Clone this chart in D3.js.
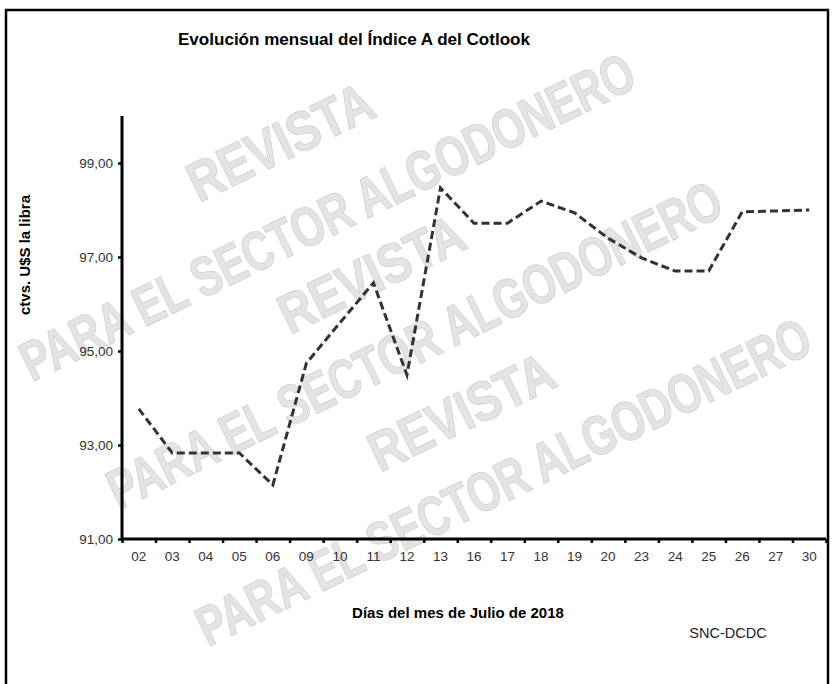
<!DOCTYPE html>
<html>
<head>
<meta charset="utf-8">
<script src="https://cdn.jsdelivr.net/npm/d3@7"></script>
<style>
  body { margin: 0; background: #fff; }
  text { font-family: "Liberation Sans", Arial, sans-serif; }
</style>
</head>
<body>
<div id="chart"></div>
<script>
// dias habiles de julio 2018 y valor del indice (ctvs. U$S la libra)
var days = ["02", "03", "04", "05", "06", "09", "10", "11", "12", "13", "16",
    "17", "18", "19", "20", "23", "24", "25", "26", "27", "30"];
var indexA = [93.77, 92.83, 92.83, 92.83, 92.15, 94.74, 95.6, 96.45, 94.49, 98.47, 97.72,
    97.72, 98.19, 97.94, 97.4, 96.98, 96.7, 96.7, 97.96, 97.98, 98.0];
var yTicks = [91, 93, 95, 97, 99];
var yDomain = [91, 100];

var W = 832, H = 684;
var plot = { left: 122, right: 826, top: 116, bottom: 539 };

var svg = d3.select("#chart").append("svg")
    .attr("width", W)
    .attr("height", H);

svg.append("rect")
    .attr("width", W).attr("height", H)
    .attr("fill", "#fff");

// marca de agua: [centro "REVISTA"], [centro "PARA EL SECTOR ALGODONERO"]
var marks = [
    [[280, 141], [327, 216]],
    [[371, 273], [414, 344]],
    [[461, 411], [503, 481]]
];
var wm = svg.append("g")
    .attr("fill", "#e4e4e4")
    .attr("stroke", "#d4d4d4")
    .attr("stroke-width", 1)
    .style("font-family", "'Liberation Sans', Arial, sans-serif")
    .style("font-weight", "bold")
    .style("font-size", "56px")
    .attr("text-anchor", "middle");
marks.forEach(function (m) {
    wm.append("text")
        .attr("transform", "translate(" + m[0][0] + "," + m[0][1] + ") rotate(-26)")
        .attr("dy", "0.36em")
        .attr("textLength", 200).attr("lengthAdjust", "spacingAndGlyphs")
        .text("REVISTA");
    wm.append("text")
        .attr("transform", "translate(" + m[1][0] + "," + m[1][1] + ") rotate(-26)")
        .attr("dy", "0.36em")
        .attr("textLength", 676).attr("lengthAdjust", "spacingAndGlyphs")
        .text("PARA EL SECTOR ALGODONERO");
});

// marco
svg.append("rect")
    .attr("x", 6).attr("y", 10)
    .attr("width", 822).attr("height", 690)
    .attr("fill", "none")
    .attr("stroke", "#000")
    .attr("stroke-width", 2.5);

var x = d3.scaleBand().domain(days).range([plot.left, plot.right]);
var xEdges = d3.scaleLinear().domain([0, days.length]).range([plot.left, plot.right]);
var y = d3.scaleLinear().domain(yDomain).range([plot.bottom, plot.top]);

var fmt = function (d) { return d3.format(".2f")(d).replace(".", ","); };

var yAxis = svg.append("g")
    .attr("transform", "translate(" + plot.left + ",0)")
    .call(d3.axisLeft(y).tickValues(yTicks).tickSize(4).tickPadding(5).tickFormat(fmt));

var xTickMarks = svg.append("g")
    .attr("transform", "translate(0," + plot.bottom + ")")
    .call(d3.axisBottom(xEdges).ticks(days.length).tickSize(4).tickFormat(""));

var xAxis = svg.append("g")
    .attr("transform", "translate(0," + plot.bottom + ")")
    .call(d3.axisBottom(x).tickSize(0).tickPadding(12));

[yAxis, xTickMarks, xAxis].forEach(function (a) {
    a.select(".domain").attr("stroke", "#000").attr("stroke-width", 3);
    a.selectAll(".tick line").attr("stroke", "#000").attr("stroke-width", 2.5);
    a.selectAll(".tick text")
        .style("font-family", "'Liberation Sans', Arial, sans-serif")
        .style("font-size", "13.5px")
        .attr("fill", "#333");
});
xTickMarks.select(".domain").attr("d", "M" + plot.left + ",0H" + plot.right);
xAxis.select(".domain").remove();
yAxis.select(".domain").attr("d", "M0," + plot.top + "V" + plot.bottom);

// serie
var line = d3.line()
    .x(function (d, i) { return x(days[i]) + x.bandwidth() / 2; })
    .y(function (d) { return y(d); });

svg.append("path")
    .datum(indexA)
    .attr("d", line)
    .attr("fill", "none")
    .attr("stroke", "#333")
    .attr("stroke-width", 3)
    .attr("stroke-dasharray", "8,4");

// textos
svg.append("text")
    .attr("x", 354).attr("y", 45)
    .attr("text-anchor", "middle")
    .attr("textLength", 352).attr("lengthAdjust", "spacingAndGlyphs")
    .style("font-size", "16px").style("font-weight", "bold")
    .text("Evolución mensual del Índice A del Cotlook");

svg.append("text")
    .attr("transform", "translate(30,255) rotate(-90)")
    .attr("text-anchor", "middle")
    .style("font-size", "15px").style("font-weight", "bold")
    .text("ctvs. U$S la libra");

svg.append("text")
    .attr("x", 458).attr("y", 618)
    .attr("text-anchor", "middle")
    .style("font-size", "15px").style("font-weight", "bold")
    .text("Días del mes de Julio de 2018");

svg.append("text")
    .attr("x", 728).attr("y", 638)
    .attr("text-anchor", "middle")
    .style("font-size", "14.5px")
    .attr("fill", "#222")
    .text("SNC-DCDC");
</script>
</body>
</html>
